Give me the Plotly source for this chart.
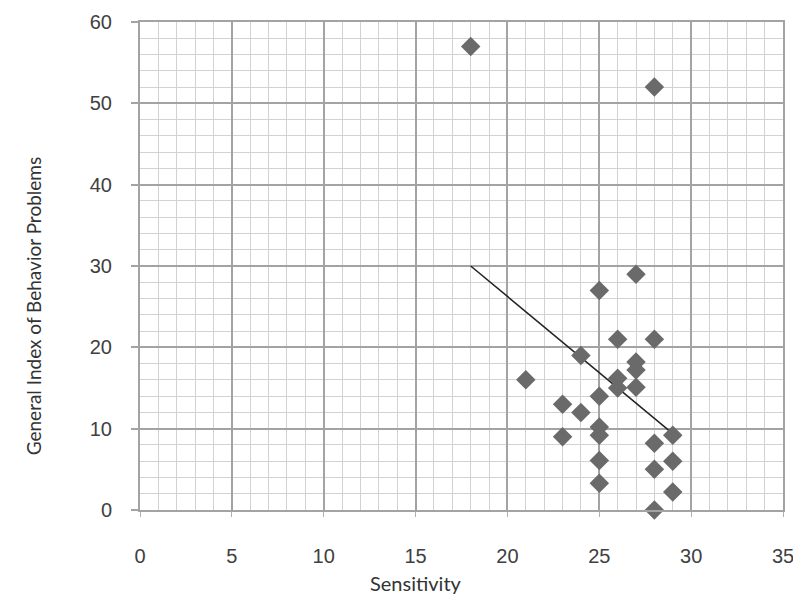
import plotly.graph_objects as go

sensitivity = [18, 28, 27, 25, 26, 28, 24, 27, 27, 21, 26, 26, 27, 25, 23, 24, 25, 25, 23, 29, 28, 25, 29, 28, 25, 29, 28]
behavior = [57, 52, 29, 27, 21, 21, 19, 18.2, 17.2, 16, 16.2, 15, 15.1, 14, 13, 12, 10.2, 9.2, 9, 9.2, 8.2, 6.1, 6, 5, 3.3, 2.2, 0]
trend_x = [18, 29]
trend_y = [30, 9.4]
x_ticks = [0, 5, 10, 15, 20, 25, 30, 35]
y_ticks = [0, 10, 20, 30, 40, 50, 60]

fig = go.Figure()
fig.add_trace(go.Scatter(
    x=trend_x, y=trend_y, mode="lines",
    line=dict(color="#222222", width=1.5), showlegend=False, hoverinfo="skip"))
fig.add_trace(go.Scatter(
    x=sensitivity, y=behavior, mode="markers",
    marker=dict(symbol="diamond", size=15, color="#6a6a6a", line=dict(width=0)),
    cliponaxis=False, showlegend=False))

tickfont = dict(family="Liberation Sans, Arial, sans-serif", size=20, color="#404040")
titlefont = dict(family="Lato, Open Sans, sans-serif", size=19, color="#333333")

fig.update_xaxes(
    range=[0, 35], tickvals=x_ticks, ticktext=[str(v) for v in x_ticks],
    showgrid=True, gridcolor="#a3a3a3", gridwidth=2,
    minor=dict(dtick=1, showgrid=True, gridcolor="#d2d2d2", gridwidth=1, ticks=""),
    showline=True, linecolor="#a3a3a3", linewidth=2, mirror=True,
    ticks="outside", ticklen=5, tickcolor="#b0b0b0", tickwidth=1,
    ticklabelstandoff=22, tickfont=tickfont, zeroline=False, automargin=False,
    ticklabeloverflow="allow",
)
fig.update_yaxes(
    range=[0, 60], tickvals=y_ticks, ticktext=[str(v) for v in y_ticks],
    showgrid=True, gridcolor="#a3a3a3", gridwidth=2,
    minor=dict(dtick=2, showgrid=True, gridcolor="#d2d2d2", gridwidth=1, ticks=""),
    showline=True, linecolor="#a3a3a3", linewidth=2, mirror=True,
    ticks="outside", ticklen=7, tickcolor="#a3a3a3", tickwidth=2,
    ticklabelstandoff=15, tickfont=tickfont, zeroline=False, automargin=False,
    ticklabeloverflow="allow",
)

fig.add_annotation(
    text="General Index of Behavior Problems", textangle=-90,
    xref="paper", yref="paper", x=-0.166, y=0.418, xanchor="center", yanchor="middle",
    showarrow=False, font=titlefont)
fig.add_annotation(
    text="Sensitivity",
    xref="paper", yref="paper", x=0.430, y=-0.150, xanchor="center", yanchor="middle",
    showarrow=False, font=dict(family="Lato, Open Sans, sans-serif", size=20, color="#333333"))

fig.update_layout(
    width=793, height=594,
    margin=dict(l=140, r=10, t=22, b=84, autoexpand=False),
    plot_bgcolor="white", paper_bgcolor="white",
)

fig.write_html("out.html", config={"displayModeBar": False},
               post_script="document.body.style.margin='0px';")
